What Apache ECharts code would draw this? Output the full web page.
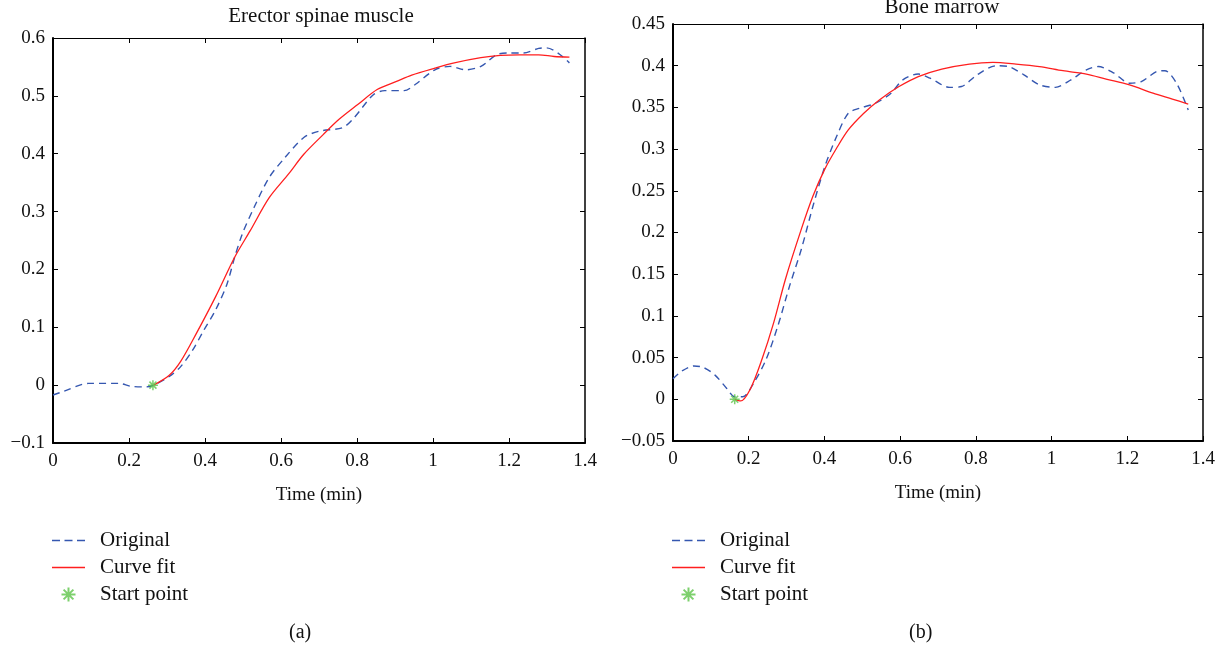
<!DOCTYPE html>
<html>
<head>
<meta charset="utf-8">
<script src="https://cdn.jsdelivr.net/npm/echarts@6/dist/echarts.min.js"></script>
<style>
html,body{margin:0;padding:0;background:#fff;}
#main{width:1221px;height:651px;}
</style>
</head>
<body>
<div id="main"></div>
<script>
// ---------- Data ----------
const titleA = 'Erector spinae muscle';
const titleB = 'Bone marrow';
const xTicks = [0, 0.2, 0.4, 0.6, 0.8, 1, 1.2, 1.4];
const seriesNames = ['Original', 'Curve fit', 'Start point'];

// (a) Erector spinae muscle
const aOrigX = [0, 0.027, 0.093, 0.174, 0.205, 0.245, 0.265, 0.306, 0.336, 0.367, 0.397, 0.428, 0.458, 0.478, 0.498, 0.529, 0.569, 0.610, 0.660, 0.701, 0.762, 0.792, 0.843, 0.873, 0.924, 0.954, 1.005, 1.045, 1.086, 1.126, 1.167, 1.197, 1.238, 1.278, 1.299, 1.329, 1.359];
const aOrigY = [-0.017, -0.011, 0.003, 0.003, -0.002, -0.003, 0.0, 0.015, 0.032, 0.060, 0.095, 0.130, 0.175, 0.221, 0.261, 0.307, 0.359, 0.393, 0.428, 0.439, 0.445, 0.462, 0.502, 0.509, 0.509, 0.520, 0.545, 0.551, 0.545, 0.551, 0.571, 0.574, 0.574, 0.582, 0.583, 0.574, 0.557];
const aFitX = [0.265, 0.306, 0.336, 0.377, 0.428, 0.478, 0.519, 0.569, 0.620, 0.660, 0.711, 0.752, 0.802, 0.853, 0.904, 0.944, 1.005, 1.056, 1.126, 1.177, 1.228, 1.278, 1.319, 1.359];
const aFitY = [0.0, 0.017, 0.041, 0.089, 0.153, 0.221, 0.267, 0.324, 0.365, 0.399, 0.433, 0.459, 0.485, 0.511, 0.525, 0.536, 0.548, 0.557, 0.566, 0.570, 0.571, 0.571, 0.568, 0.567];
const aStart = [0.263, 0.0];

// (b) Bone marrow
const bOrigX = [0, 0.024, 0.055, 0.081, 0.111, 0.142, 0.163, 0.184, 0.215, 0.246, 0.277, 0.308, 0.339, 0.370, 0.401, 0.432, 0.463, 0.493, 0.535, 0.576, 0.607, 0.648, 0.679, 0.731, 0.762, 0.803, 0.855, 0.886, 0.927, 0.968, 1.010, 1.051, 1.092, 1.123, 1.165, 1.206, 1.237, 1.278, 1.299, 1.330, 1.361];
const bOrigY = [0.0245, 0.034, 0.040, 0.038, 0.029, 0.013, 0.003, 0.003, 0.021, 0.048, 0.088, 0.136, 0.180, 0.232, 0.279, 0.315, 0.343, 0.349, 0.355, 0.367, 0.383, 0.390, 0.385, 0.374, 0.375, 0.389, 0.400, 0.399, 0.389, 0.377, 0.374, 0.383, 0.395, 0.399, 0.391, 0.379, 0.381, 0.393, 0.394, 0.379, 0.347];
const bFitX = [0.163, 0.179, 0.204, 0.235, 0.266, 0.297, 0.339, 0.370, 0.401, 0.432, 0.463, 0.504, 0.545, 0.597, 0.648, 0.710, 0.783, 0.845, 0.906, 0.968, 1.030, 1.092, 1.144, 1.206, 1.268, 1.319, 1.361];
const bFitY = [0.0, -0.002, 0.012, 0.048, 0.092, 0.144, 0.204, 0.244, 0.276, 0.301, 0.323, 0.343, 0.359, 0.375, 0.387, 0.396, 0.402, 0.404, 0.402, 0.399, 0.394, 0.390, 0.384, 0.377, 0.367, 0.360, 0.354];
const bStart = [0.163, 0.0];

// ---------- Styling ----------
const FONT = '"Liberation Serif", "DejaVu Serif", serif';
const BLUE = '#3557b0';
const RED = '#ff1f1f';
const GREEN = '#5cc449';
const zip = (xs, ys) => xs.map((x, i) => [x, ys[i]]);
const fmt = v => {
  const s = String(Number(v.toFixed(3)));
  return v < 0 ? '\u2212' + s.replace('-', '') : s;
};
const asterisk = 'path://M5,0L5,10M0,5L10,5M1.5,1.5L8.5,8.5M1.5,8.5L8.5,1.5';

const grids = [
  {left: 53, top: 38, width: 532, height: 405},
  {left: 673, top: 24, width: 530, height: 417}
];

function xAxes(gi) {
  const common = {
    type: 'value', gridIndex: gi, min: 0, max: 1.4, interval: 0.2,
    splitLine: {show: false},
    axisLine: {show: true, onZero: false, lineStyle: {color: '#000', width: 2}},
    axisTick: {show: true, inside: true, length: 5, lineStyle: {color: '#000', width: 1}}
  };
  return [
    Object.assign({}, common, {
      position: 'bottom',
      name: 'Time (min)', nameLocation: 'middle', nameGap: 43,
      nameTextStyle: {fontFamily: FONT, fontSize: 19, color: '#111'},
      axisLabel: {fontFamily: FONT, fontSize: 19, color: '#111', margin: 9, formatter: fmt}
    }),
    Object.assign({}, common, {position: 'top', axisLabel: {show: false},
      axisLine: {show: true, onZero: false, lineStyle: {color: '#000', width: 1}}})
  ];
}
function yAxes(gi, min, max, step) {
  const common = {
    type: 'value', gridIndex: gi, min: min, max: max, interval: step,
    splitLine: {show: false},
    axisLine: {show: true, onZero: false, lineStyle: {color: '#000', width: 2}},
    axisTick: {show: true, inside: true, length: 5, lineStyle: {color: '#000', width: 1}}
  };
  return [
    Object.assign({}, common, {position: 'left',
      axisLabel: {fontFamily: FONT, fontSize: 19, color: '#111', margin: 8, formatter: fmt}}),
    Object.assign({}, common, {position: 'right', axisLabel: {show: false},
      axisLine: {show: true, onZero: false, lineStyle: {color: '#000', width: 1.5}}})
  ];
}

function seriesFor(xi, yi, ox, oy, fx, fy, st) {
  return [
    {name: seriesNames[0], type: 'line', xAxisIndex: xi, yAxisIndex: yi, data: zip(ox, oy),
     showSymbol: false, symbol: 'none', smooth: 0.3, z: 2,
     lineStyle: {color: BLUE, width: 1.4, type: [7, 5]}, itemStyle: {color: BLUE}},
    {name: seriesNames[1], type: 'line', xAxisIndex: xi, yAxisIndex: yi, data: zip(fx, fy),
     showSymbol: false, symbol: 'none', smooth: 0.3, z: 3,
     lineStyle: {color: RED, width: 1.3}, itemStyle: {color: RED}},
    {name: seriesNames[2], type: 'scatter', xAxisIndex: xi, yAxisIndex: yi, data: [st],
     symbol: asterisk, symbolSize: 10, z: 4,
     itemStyle: {color: GREEN, borderColor: GREEN, borderWidth: 1.5}}
  ];
}

const legendCommon = {
  orient: 'vertical', itemWidth: 33, itemHeight: 14, itemGap: 6, padding: 0,
  textStyle: {fontFamily: FONT, fontSize: 21, lineHeight: 20, color: '#111', padding: [0, 0, 0, 10]},
  selectedMode: false,
  data: [
    {name: seriesNames[0], icon: 'path://M0,6L8,6L8,7.5L0,7.5ZM12.5,6L20.5,6L20.5,7.5L12.5,7.5ZM25,6L33,6L33,7.5L25,7.5Z', itemStyle: {color: BLUE}},
    {name: seriesNames[1], icon: 'path://M0,6L33,6L33,7.5L0,7.5Z', itemStyle: {color: RED}},
    {name: seriesNames[2]}
  ]
};

const chart = echarts.init(document.getElementById('main'));
chart.setOption({
  backgroundColor: '#fff',
  animation: false,
  title: [
    {text: titleA, left: 316, top: 1, textAlign: 'center',
     textStyle: {fontFamily: FONT, fontSize: 21, fontWeight: 'normal', color: '#111'}},
    {text: titleB, left: 937, top: -8, textAlign: 'center',
     textStyle: {fontFamily: FONT, fontSize: 21, fontWeight: 'normal', color: '#111'}}
  ],
  grid: grids,
  xAxis: [].concat(xAxes(0), xAxes(1)),
  yAxis: [].concat(yAxes(0, -0.1, 0.6, 0.1), yAxes(1, -0.05, 0.45, 0.05)),
  legend: [
    Object.assign({}, legendCommon, {left: 52, top: 530}),
    Object.assign({}, legendCommon, {left: 672, top: 530})
  ],
  series: [].concat(
    seriesFor(0, 0, aOrigX, aOrigY, aFitX, aFitY, aStart),
    seriesFor(2, 2, bOrigX, bOrigY, bFitX, bFitY, bStart)
  ),
  graphic: [
    {type: 'text', left: 289, top: 623, style: {text: '(a)', font: '20px ' + FONT, fill: '#111'}},
    {type: 'text', left: 909, top: 623, style: {text: '(b)', font: '20px ' + FONT, fill: '#111'}}
  ]
});
</script>
</body>
</html>
